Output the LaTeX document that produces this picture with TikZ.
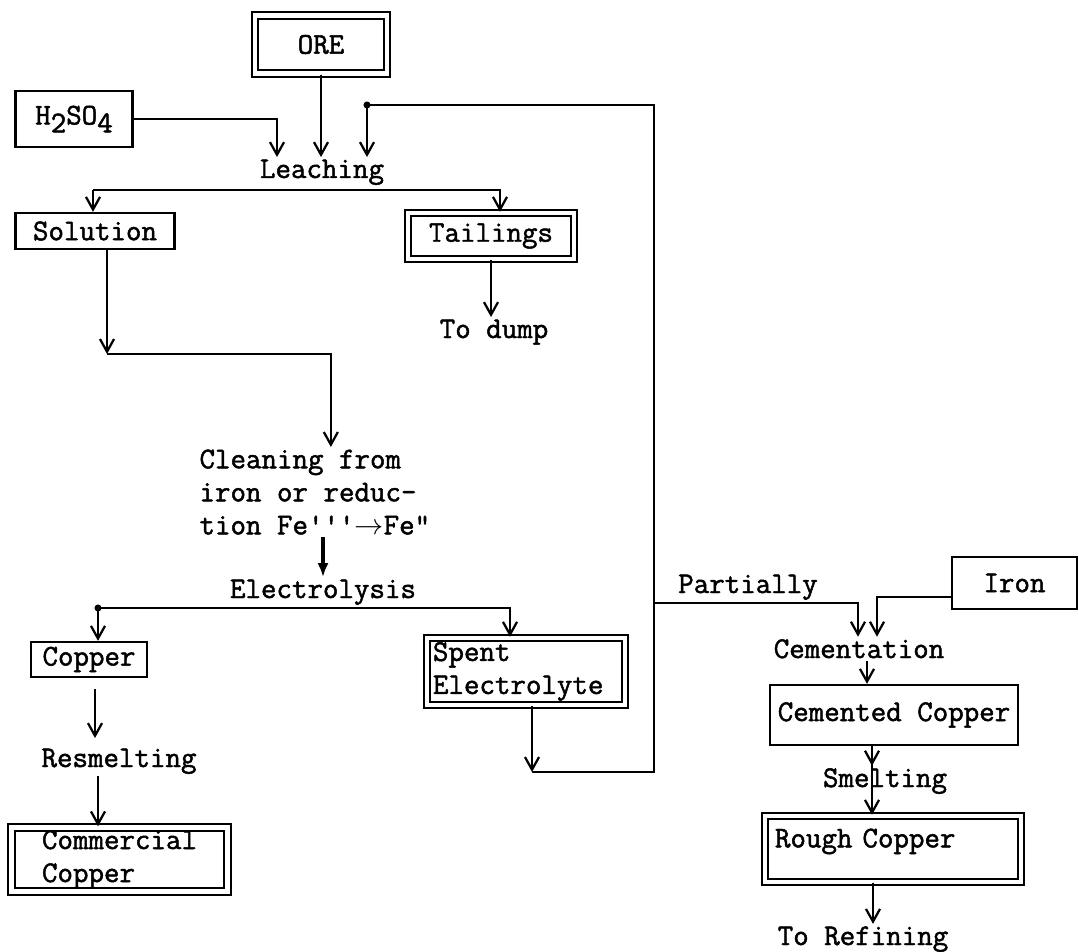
\documentclass[tikz,border=0pt]{standalone}
\usepackage{fontspec}
\setmonofont{Latin Modern Mono}[FakeBold=1.6]
\usetikzlibrary{arrows.meta, calc}
\tikzset{
  every picture/.style={line width=1.6pt, x=0.025cm, y=-0.025cm},
  every node/.style={font=\ttfamily\fontsize{21.4}{23.5}\selectfont},
  box/.style={draw, inner sep=0pt, align=center},
  dbox/.style={box, double, double distance=3pt},
  lbl/.style={anchor=base, inner sep=1pt},
  arr/.style={-{Straight Barb[length=9pt, width=10pt]}},
  barr/.style={-{Latex[length=10pt, width=8pt]}, line width=2.6pt},
}

\begin{document}
\begin{tikzpicture}
  \useasboundingbox (0,0) rectangle (1079,952);
  % boxes
  \node[dbox, minimum width=3.3cm, minimum height=1.45cm] (ore) at (321,44.5) {ORE};
  \node[box, minimum width=2.925cm, minimum height=1.4cm] (acid) at (74,119) {H\raisebox{-0.6ex}{2}SO\raisebox{-0.6ex}{4}};
  \node[box, minimum width=3.975cm, minimum height=0.9cm] (solution) at (95,231) {Solution};
  \node[dbox, minimum width=4.15cm, minimum height=1.15cm] (tailings) at (491,236) {Tailings};
  \node[box, minimum width=2.9cm, minimum height=0.875cm] (copper) at (89,659.5) {Copper};
  \node[dbox, minimum width=5.4cm, minimum height=1.6cm, align=left] (commercial) at (119.5,859.5) {Commercial\\Copper};
  \node[dbox, minimum width=4.95cm, minimum height=1.675cm, text width=4.65cm, align=left] (spent) at (526,671.5) {Spent\\Electrolyte};
  \node[box, minimum width=3.125cm, minimum height=1.3cm] (iron) at (1014.5,583) {Iron};
  \node[box, minimum width=6.2cm, minimum height=1.5cm] (cemcu) at (894,715) {Cemented Copper};
  \node[dbox, minimum width=6.4cm, minimum height=1.65cm, text width=5.9cm, text depth=0.55cm, align=left] (rough) at (893,849) {Rough Copper};
  % process steps
  \node[lbl] (leach) at (322,178) {Leaching};
  \node[lbl] (dump) at (494,338) {To dump};
  \node[lbl, anchor=north west, align=left] (clean) at (197,447) {Cleaning from\\iron or reduc-\\tion Fe\textquotesingle\textquotesingle\textquotesingle$\rightarrow$Fe"};
  \node[lbl] (elec) at (323,598) {Electrolysis};
  \node[lbl] (resmelt) at (119,767) {Resmelting};
  \node[lbl] (partial) at (748,593) {Partially};
  \node[lbl] (cement) at (859,658) {Cementation};
  \node[lbl] (smelt) at (885,787) {Smelting};
  \node[lbl] (refin) at (863,945) {To Refining};
  % bends and forks
  \coordinate (lfork) at (93,190);
  \coordinate (solbend) at (107,354);
  \coordinate (efork) at (98,608);
  \coordinate (spbend) at (532,772);
  \coordinate (rtop) at (654,105);
  \coordinate (rdot) at (367,105);
  \coordinate (rbr) at (654,603);
  % leaching
  \draw[arr] (acid.east) -| ($(leach.north)+(-45,0)$);
  \draw[arr] (ore.south) -- (ore.south |- leach.north);
  \draw[arr] (lfork) -- (lfork |- solution.north);
  \draw[arr] (lfork) -| ($(tailings.north)+(9,0)$);
  \draw[arr] (tailings.south) -- (tailings.south |- dump.north);
  % solution line
  \draw[arr] ($(solution.south)+(12,0)$) -- (solbend);
  \draw[arr] (solbend) -| ($(clean.north)+(16,0)$);
  \draw[barr] (elec.north |- clean.south) -- (elec.north);
  \draw[arr] (efork) -- (efork |- copper.north);
  \draw[arr] (efork) -| ($(spent.north)+(-16,0)$);
  \fill (efork) circle[radius=2.5pt];
  \draw[arr] ($(copper.south)+(6,11)$) -- ($(resmelt.north)+(-24,-8)$);
  \draw[arr] ($(resmelt.south)+(-21,0)$) -- ($(commercial.north)+(-21.5,0)$);
  % spent electrolyte return
  \draw[arr] ($(spent.south)+(6,0)$) -- (spbend);
  \draw[arr] (spbend) -| (rtop) -- (rdot) -- (rdot |- leach.north);
  \fill (rdot) circle[radius=2.5pt];
  % cementation
  \draw[arr] (rbr) -| ($(cement.north)+(-1,0)$);
  \draw[arr] ($(iron.west)+(0,14)$) -| ($(cement.north)+(18,0)$);
  \draw[arr] ($(cement.south)+(8,0)$) -- ($(cemcu.north)+(-27,0)$);
  \draw[arr] ($(cemcu.south)+(-22,0)$) -- ($(smelt.north)+(-13,0)$);
  \draw[arr] ($(cemcu.south)+(-22,0)$) -- ($(rough.north)+(-21,0)$);
  \draw[arr] ($(rough.south)+(-20,0)$) -- ($(refin.north)+(10,0)$);
\end{tikzpicture}
\end{document}
